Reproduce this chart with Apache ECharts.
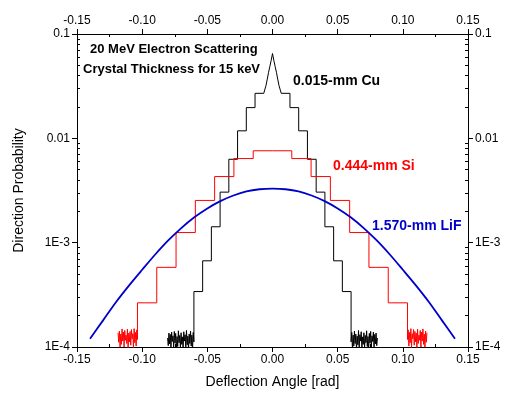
<!DOCTYPE html>
<html>
<head>
<meta charset="utf-8">
<script src="https://cdn.jsdelivr.net/npm/echarts@6/dist/echarts.min.js"></script>
<style>
  html, body { margin: 0; padding: 0; background: #fff; }
  #chart { width: 507px; height: 394px; }
</style>
</head>
<body>
<div id="chart"></div>
<script>
// axis ticks
const xMinorTicks = [-0.125, -0.075, -0.025, 0.025, 0.075, 0.125];
const yTicks = [1e-4, 1e-3, 0.01, 0.1];
const yTickLabels = ['1E-4', '1E-3', '0.01', '0.1'];
const yMinorTicks = [
  2e-4, 3e-4, 4e-4, 5e-4, 6e-4, 7e-4, 8e-4, 9e-4,
  2e-3, 3e-3, 4e-3, 5e-3, 6e-3, 7e-3, 8e-3, 9e-3,
  0.02, 0.03, 0.04, 0.05, 0.06, 0.07, 0.08, 0.09
];

// 0.015-mm Cu : central peak, then plateaus between edges, then noisy floor (x >= 0 half)
const cuPeakX = [0, 0.001, 0.002, 0.003, 0.004, 0.005, 0.006, 0.0067];
const cuPeakY = [0.065, 0.056, 0.049, 0.043, 0.037, 0.032, 0.029, 0.027];
const cuEdges = [0.0067, 0.0134, 0.0201, 0.0268, 0.0335, 0.0402, 0.0469, 0.0536, 0.0603];
const cuLevels = [0.027, 0.0197, 0.0118, 0.0063, 0.00305, 0.00142, 0.00067, 0.00034];
const cuFloorEnd = 0.0805;
const cuFloor = [1.12e-4, 1.38e-4, 0.95e-4, 1.30e-4, 1.02e-4, 1.42e-4, 1.08e-4, 1.33e-4, 0.93e-4, 1.27e-4,
  1.05e-4, 1.44e-4, 0.98e-4, 1.31e-4, 1.14e-4, 1.40e-4, 0.96e-4, 1.25e-4, 1.06e-4, 1.37e-4,
  0.99e-4, 1.29e-4, 1.10e-4, 1.43e-4, 1.01e-4, 1.26e-4, 0.94e-4, 1.35e-4, 1.09e-4, 1.41e-4,
  1.00e-4, 1.28e-4, 1.13e-4, 1.39e-4, 0.97e-4, 1.32e-4, 1.07e-4, 1.36e-4, 1.03e-4, 1.22e-4];

// 0.444-mm Si
const siPeakX = [];
const siPeakY = [];
const siEdges = [0, 0.0148, 0.0296, 0.0444, 0.0592, 0.0740, 0.0888, 0.1036];
const siLevels = [0.0076, 0.0064, 0.0043, 0.00254, 0.00125, 0.00058, 0.000265];
const siFloorEnd = 0.1185;
const siFloor = [1.18e-4, 1.46e-4, 1.02e-4, 1.38e-4, 1.10e-4, 1.50e-4, 0.98e-4, 1.34e-4, 1.20e-4, 1.47e-4,
  1.04e-4, 1.41e-4, 1.12e-4, 1.36e-4, 0.96e-4, 1.48e-4, 1.08e-4, 1.30e-4, 1.16e-4, 1.44e-4,
  1.00e-4, 1.39e-4, 1.14e-4, 1.49e-4, 1.06e-4, 1.33e-4, 0.99e-4, 1.42e-4, 1.11e-4, 1.37e-4];

// 1.570-mm LiF
const lifX = [-0.14, -0.13, -0.12, -0.11, -0.10, -0.09, -0.08, -0.07, -0.06, -0.05, -0.04, -0.03, -0.02, -0.01,
  0, 0.01, 0.02, 0.03, 0.04, 0.05, 0.06, 0.07, 0.08, 0.09, 0.10, 0.11, 0.12, 0.13, 0.14];
const lifY = [0.00012, 0.00018, 0.00027, 0.00039, 0.00055, 0.00077, 0.00105, 0.00138, 0.00175, 0.00213,
  0.0025, 0.00283, 0.0031, 0.00325, 0.0033, 0.00325, 0.0031, 0.00283, 0.0025, 0.00213, 0.00175,
  0.00138, 0.00105, 0.00077, 0.00055, 0.00039, 0.00027, 0.00018, 0.00012];

// build symmetric step profile from the half-side arrays
function buildProfile(peakX, peakY, edges, levels, floor, floorEnd) {
  const half = [];
  peakX.forEach((x, i) => half.push([x, peakY[i]]));
  levels.forEach((lv, i) => {
    half.push([edges[i], lv]);
    half.push([edges[i + 1], lv]);
  });
  const f0 = edges[edges.length - 1];
  floor.forEach((v, i) => {
    half.push([f0 + (floorEnd - f0) * i / (floor.length - 1), v]);
  });
  const left = half.filter(p => p[0] > 0).map(p => [-p[0], p[1]]).reverse();
  return left.concat(half);
}

const cuData = buildProfile(cuPeakX, cuPeakY, cuEdges, cuLevels, cuFloor, cuFloorEnd);
const siData = buildProfile(siPeakX, siPeakY, siEdges, siLevels, siFloor, siFloorEnd);
const lifData = lifX.map((x, i) => [x, lifY[i]]);

const FONT = 'Liberation Sans, Arial, sans-serif';
const black = '#000';

function xAxisMain(pos, withName) {
  return {
    type: 'value', position: pos, min: -0.15, max: 0.15, interval: 0.05,
    name: withName ? 'Deflection Angle [rad]' : '',
    nameLocation: 'middle', nameGap: 28,
    nameTextStyle: { fontFamily: FONT, fontSize: 14, color: black },
    axisLine: { show: true, onZero: false, lineStyle: { color: black, width: 1 } },
    axisTick: { show: true, inside: false, length: 5, lineStyle: { color: black } },
    axisLabel: {
      show: true, margin: 7, fontFamily: FONT, fontSize: 12, color: black,
      formatter: v => (Math.abs(v) < 1e-9 ? '0.00' : v.toFixed(2))
    },
    splitLine: { show: false }
  };
}
function xAxisMinor(pos) {
  return {
    type: 'value', position: pos, min: -0.15, max: 0.15,
    axisLine: { show: false, onZero: false },
    axisTick: { show: true, inside: true, length: 3, customValues: xMinorTicks, lineStyle: { color: black } },
    axisLabel: { show: false },
    splitLine: { show: false }
  };
}
function yAxisMain(pos, withName) {
  return {
    type: 'log', logBase: 10, position: pos, min: 1e-4, max: 0.1,
    name: withName ? 'Direction Probability' : '',
    nameLocation: 'middle', nameGap: 51,
    nameTextStyle: { fontFamily: FONT, fontSize: 14, color: black },
    axisLine: { show: true, onZero: false, lineStyle: { color: black, width: 1 } },
    axisTick: { show: true, inside: false, length: 5, lineStyle: { color: black } },
    axisLabel: {
      show: true, margin: 7, fontFamily: FONT, fontSize: 12, color: black,
      formatter: v => {
        let best = 0;
        yTicks.forEach((t, i) => {
          if (Math.abs(Math.log10(t) - Math.log10(v)) < Math.abs(Math.log10(yTicks[best]) - Math.log10(v))) best = i;
        });
        return yTickLabels[best];
      }
    },
    splitLine: { show: false }
  };
}
function yAxisMinor(pos) {
  return {
    type: 'log', logBase: 10, position: pos, min: 1e-4, max: 0.1,
    axisLine: { show: false, onZero: false },
    axisTick: { show: true, inside: true, length: 3, customValues: yMinorTicks, lineStyle: { color: black } },
    axisLabel: { show: false },
    splitLine: { show: false }
  };
}

const chart = echarts.init(document.getElementById('chart'), null, { renderer: 'canvas' });

const option = {
  animation: false,
  backgroundColor: '#fff',
  grid: { left: 77, right: 39, top: 34, bottom: 45, containLabel: false },
  xAxis: [xAxisMain('bottom', true), xAxisMain('top', false), xAxisMinor('bottom'), xAxisMinor('top')],
  yAxis: [yAxisMain('left', true), yAxisMain('right', false), yAxisMinor('left'), yAxisMinor('right')],
  series: [
    {
      name: '0.015-mm Cu', type: 'line', data: cuData, showSymbol: false,
      lineStyle: { color: '#000', width: 1 }, itemStyle: { color: '#000' }, z: 2
    },
    {
      name: '0.444-mm Si', type: 'line', data: siData, showSymbol: false,
      lineStyle: { color: '#ff0000', width: 1 }, itemStyle: { color: '#ff0000' }, z: 3
    },
    {
      name: '1.570-mm LiF', type: 'line', data: lifData, showSymbol: false, smooth: 0.3,
      lineStyle: { color: '#0000cc', width: 1.8 }, itemStyle: { color: '#0000cc' }, z: 4
    }
  ],
  graphic: [
    { type: 'text', left: 90, top: 43, style: { text: '20 MeV Electron Scattering', font: 'bold 13px ' + FONT, fill: black } },
    { type: 'text', left: 83, top: 63, style: { text: 'Crystal Thickness for 15 keV', font: 'bold 13px ' + FONT, fill: black } },
    { type: 'text', left: 293, top: 74, style: { text: '0.015-mm Cu', font: 'bold 14px ' + FONT, fill: black } },
    { type: 'text', left: 333, top: 159, style: { text: '0.444-mm Si', font: 'bold 14px ' + FONT, fill: '#ff0000' } },
    { type: 'text', left: 372, top: 219, style: { text: '1.570-mm LiF', font: 'bold 14px ' + FONT, fill: '#0000cc' } }
  ]
};

chart.setOption(option);
</script>
</body>
</html>
